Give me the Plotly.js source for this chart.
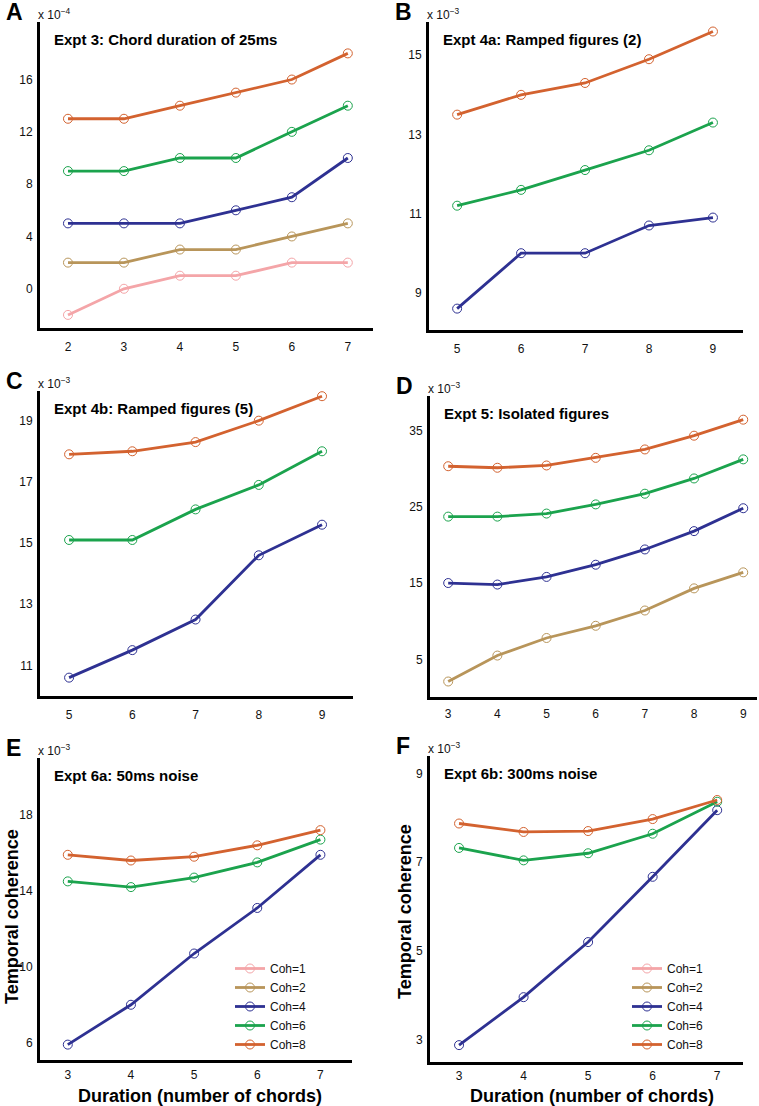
<!DOCTYPE html>
<html>
<head>
<meta charset="utf-8">
<script src="https://cdn.plot.ly/plotly-3.0.1.min.js"></script>
<style>html,body{margin:0;padding:0;background:#fff;}#chart{width:759px;height:1106px;}</style>
</head>
<body>
<div id="chart"></div>
<script>
// ---------- DATA (values shown in units of the axis multiplier) ----------
const seriesNames = ["Coh=1", "Coh=2", "Coh=4", "Coh=6", "Coh=8"];
const seriesColors = ["#f4a5a8", "#b8955a", "#2e3192", "#1ba34d", "#d3622f"];

// Panel A (x 10^-4)
const xA = [2, 3, 4, 5, 6, 7];
const A_coh1 = [-2, 0, 1, 1, 2, 2];
const A_coh2 = [2, 2, 3, 3, 4, 5];
const A_coh4 = [5, 5, 5, 6, 7, 10];
const A_coh6 = [9, 9, 10, 10, 12, 14];
const A_coh8 = [13, 13, 14, 15, 16, 18];

// Panel B (x 10^-3)
const xB = [5, 6, 7, 8, 9];
const B_coh4 = [8.6, 10.0, 10.0, 10.7, 10.9];
const B_coh6 = [11.2, 11.6, 12.1, 12.6, 13.3];
const B_coh8 = [13.5, 14.0, 14.3, 14.9, 15.6];

// Panel C (x 10^-3)
const xC = [5, 6, 7, 8, 9];
const C_coh4 = [10.6, 11.5, 12.5, 14.6, 15.6];
const C_coh6 = [15.1, 15.1, 16.1, 16.9, 18.0];
const C_coh8 = [17.9, 18.0, 18.3, 19.0, 19.8];

// Panel D (x 10^-3)
const xD = [3, 4, 5, 6, 7, 8, 9];
const D_coh2 = [2.1, 5.5, 7.8, 9.4, 11.4, 14.3, 16.4];
const D_coh4 = [15.0, 14.8, 15.8, 17.4, 19.4, 21.8, 24.8];
const D_coh6 = [23.7, 23.7, 24.1, 25.3, 26.7, 28.7, 31.2];
const D_coh8 = [30.3, 30.1, 30.4, 31.4, 32.5, 34.3, 36.4];

// Panel E (x 10^-3)
const xE = [3, 4, 5, 6, 7];
const E_coh4 = [5.9, 8.0, 10.7, 13.1, 15.9];
const E_coh6 = [14.5, 14.2, 14.7, 15.5, 16.7];
const E_coh8 = [15.9, 15.6, 15.8, 16.4, 17.2];

// Panel F (x 10^-3)
const xF = [3, 4, 5, 6, 7];
const F_coh4 = [2.88, 3.96, 5.2, 6.67, 8.17];
const F_coh6 = [7.32, 7.04, 7.2, 7.64, 8.36];
const F_coh8 = [7.87, 7.68, 7.7, 7.97, 8.4];

// Tick labels
const ticksA = [0, 4, 8, 12, 16];
const ticksB = [9, 11, 13, 15];
const ticksC = [11, 13, 15, 17, 19];
const ticksD = [5, 15, 25, 35];
const ticksE = [6, 10, 14, 18];
const ticksF = [3, 5, 7, 9];

const panelTitles = ["Expt 3: Chord duration of 25ms", "Expt 4a: Ramped figures (2)",
  "Expt 4b: Ramped figures (5)", "Expt 5: Isolated figures", "Expt 6a: 50ms noise", "Expt 6b: 300ms noise"];
const panelLetters = ["A", "B", "C", "D", "E", "F"];
const multipliers = ["−4", "−3", "−3", "−3", "−3", "−3"];
const yTitle = "Temporal coherence";
const xTitle = "Duration (number of chords)";

// ---------- LAYOUT GEOMETRY ----------
const W = 759, H = 1106;
const FONT = "Liberation Sans, Arial, Helvetica, sans-serif";
const px = v => v / W;
const py = v => 1 - v / H;

// [left, right, top, bottom] in pixels, plus ranges
const panels = [
  {box: [40, 373, 22, 328], xr: [1.5, 7.45], yr: [-3, 20.4], yt: ticksA, xt: xA, tl: 6},
  {box: [429, 743, 22, 330], xr: [4.56, 9.47], yr: [8.06, 15.84], yt: ticksB, xt: xB, tl: 6},
  {box: [40, 353, 391, 696], xr: [4.54, 9.49], yr: [10.0, 19.97], yt: ticksC, xt: xC, tl: 6},
  {box: [430, 757, 396, 697], xr: [2.63, 9.28], yr: [0.07, 39.5], yt: ticksD, xt: xD, tl: 4},
  {box: [40, 352, 758, 1060], xr: [2.56, 7.5], yr: [5.09, 21], yt: ticksE, xt: xE, tl: 2},
  {box: [430, 743, 756, 1062], xr: [2.55, 7.4], yr: [2.5, 9.39], yt: ticksF, xt: xF, tl: 1}
];

const panelSeries = [
  [[0, xA, A_coh1], [1, xA, A_coh2], [2, xA, A_coh4], [3, xA, A_coh6], [4, xA, A_coh8]],
  [[2, xB, B_coh4], [3, xB, B_coh6], [4, xB, B_coh8]],
  [[2, xC, C_coh4], [3, xC, C_coh6], [4, xC, C_coh8]],
  [[1, xD, D_coh2], [2, xD, D_coh4], [3, xD, D_coh6], [4, xD, D_coh8]],
  [[2, xE, E_coh4], [3, xE, E_coh6], [4, xE, E_coh8]],
  [[2, xF, F_coh4], [3, xF, F_coh6], [4, xF, F_coh8]]
];

const traces = [];
const layout = {
  width: W, height: H,
  margin: {l: 0, r: 0, t: 0, b: 0},
  paper_bgcolor: "#fff", plot_bgcolor: "rgba(0,0,0,0)",
  font: {family: FONT, color: "#111", size: 12},
  showlegend: true,
  annotations: []
};

panels.forEach((p, i) => {
  const n = i === 0 ? "" : String(i + 1);
  const [l, r, t, b] = p.box;
  layout["xaxis" + n] = {
    domain: [px(l), px(r)], range: p.xr, anchor: "y" + n,
    showline: true, linewidth: 3, linecolor: "#000", mirror: false,
    showgrid: false, zeroline: false,
    ticks: "outside", ticklen: p.tl, tickcolor: "rgba(0,0,0,0)",
    tickvals: p.xt, tickfont: {size: 12, family: FONT, color: "#111"},
    fixedrange: true
  };
  layout["yaxis" + n] = {
    domain: [py(b), py(t)], range: p.yr, anchor: "x" + n,
    showline: true, linewidth: 3, linecolor: "#000", mirror: false,
    showgrid: false, zeroline: false,
    ticks: "outside", ticklen: 2, tickcolor: "rgba(0,0,0,0)",
    tickvals: p.yt, tickfont: {size: 12, family: FONT, color: "#111"},
    fixedrange: true
  };
  panelSeries[i].forEach(s => {
    const k = s[0];
    traces.push({
      type: "scatter", mode: "lines+markers",
      x: s[1], y: s[2], xaxis: "x" + n, yaxis: "y" + n,
      name: seriesNames[k], showlegend: false,
      line: {color: seriesColors[k], width: 2.8},
      marker: {symbol: "circle-open", size: 9, color: seriesColors[k], line: {width: 1}},
      cliponaxis: false
    });
  });
  // panel letter
  layout.annotations.push({
    xref: "paper", yref: "paper", x: px(l - 36), y: py(t - 10),
    xanchor: "left", yanchor: "middle", showarrow: false,
    text: "<b>" + panelLetters[i] + "</b>", font: {size: 23, family: FONT, color: "#000"}
  });
  // multiplier
  layout.annotations.push({
    xref: "paper", yref: "paper", x: px(l - 4), y: py(t - 8),
    xanchor: "left", yanchor: "middle", showarrow: false,
    text: "x 10<sup>" + multipliers[i] + "</sup>", font: {size: 12, family: FONT, color: "#111"}
  });
  // panel title
  layout.annotations.push({
    xref: "paper", yref: "paper", x: px(l + 12), y: py(t + 17),
    xanchor: "left", yanchor: "middle", showarrow: false,
    text: "<b>" + panelTitles[i] + "</b>", font: {size: 15, family: FONT, color: "#000"}
  });
});

// axis titles for bottom row
[[12, 917, 200, 1096, 4], [405, 912, 592, 1096, 5]].forEach(a => {
  layout.annotations.push({
    xref: "paper", yref: "paper", x: px(a[0]), y: py(a[1]),
    xanchor: "center", yanchor: "middle", showarrow: false, textangle: -90,
    text: "<b>" + yTitle + "</b>", font: {size: 18, family: FONT, color: "#000"}
  });
  layout.annotations.push({
    xref: "paper", yref: "paper", x: px(a[2]), y: py(a[3]),
    xanchor: "center", yanchor: "middle", showarrow: false,
    text: "<b>" + xTitle + "</b>", font: {size: 18, family: FONT, color: "#000"}
  });
});

// legends for E and F
["legend", "legend2"].forEach((lg, j) => {
  const n = j === 0 ? "5" : "6";
  seriesNames.forEach((nm, k) => {
    traces.push({
      type: "scatter", mode: "lines+markers", x: [null], y: [null],
      xaxis: "x" + n, yaxis: "y" + n, name: nm, legend: lg, showlegend: true,
      line: {color: seriesColors[k], width: 2.8},
      marker: {symbol: "circle-open", size: 9, color: seriesColors[k], line: {width: 1}}
    });
  });
});
const legendCommon = {
  xanchor: "left", yanchor: "top", bgcolor: "rgba(0,0,0,0)", borderwidth: 0,
  font: {size: 12, family: FONT, color: "#111"}, traceorder: "normal", tracegroupgap: 0,
  itemclick: false, itemdoubleclick: false
};
layout.legend = Object.assign({}, legendCommon, {x: px(230), y: py(954)});
layout.legend2 = Object.assign({}, legendCommon, {x: px(627), y: py(954)});

Plotly.newPlot("chart", traces, layout, {displayModeBar: false, staticPlot: true});
</script>
</body>
</html>
